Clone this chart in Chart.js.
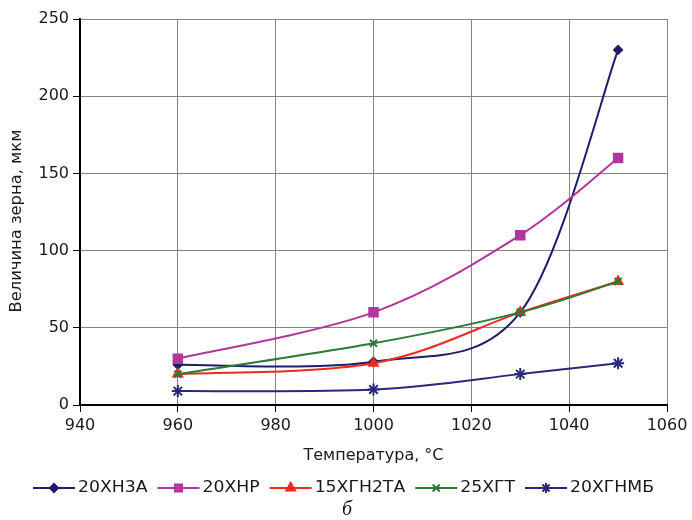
<!DOCTYPE html>
<html>
<head>
<meta charset="utf-8">
<script src="https://cdn.jsdelivr.net/npm/chart.js@4/dist/chart.umd.min.js"></script>
<style>
  html, body { margin: 0; padding: 0; background: #fff; }
  #wrap { width: 692px; height: 520px; position: relative; }
</style>
</head>
<body>
<div id="wrap"><canvas id="c" width="692" height="520"></canvas></div>
<script>
// Grain size of steels versus heating temperature
const temperatures = [960, 1000, 1030, 1050];
const s20XH3A   = [26, 28, 60, 230];
const s20XHP    = [30, 60, 110, 160];
const s15XGH2TA = [20, 27, 60, 80];
const s25XGT    = [20, 40, 60, 80];
const s20XGHMB  = [9, 10, 20, 27];

const seriesNames  = ['20ХН3А', '20ХНР', '15ХГН2ТА', '25ХГТ', '20ХГНМБ'];
const seriesValues = [s20XH3A, s20XHP, s15XGH2TA, s25XGT, s20XGHMB];
const seriesColors = ['#201c6a', '#b3369c', '#ee2a1e', '#2a7a36', '#2a2878'];
const seriesPoints = ['rectRot', 'rect', 'triangle', 'crossRot', 'star'];
const seriesRadius = [4, 6, 5, 5, 6];

const xTitle = 'Температура, °С';
const yTitle = 'Величина зерна, мкм';
const caption = 'б';

const FONT = '"DejaVu Sans", Verdana, sans-serif';

const datasets = seriesNames.map((name, i) => ({
  label: name,
  data: temperatures.map((t, k) => ({ x: t, y: seriesValues[i][k] })),
  borderColor: seriesColors[i],
  backgroundColor: seriesColors[i],
  pointStyle: seriesPoints[i],
  pointRadius: seriesRadius[i],
  pointBorderWidth: 2,
  borderWidth: 2,
  tension: 0.4,
  fill: false,
  order: seriesNames.length - i
}));

// Smoothed lines in the spreadsheet style: Catmull-Rom tangents (neighbour span / 6)
const smoothLines = {
  id: 'smoothLines',
  beforeDatasetDraw(chart, args) {
    const meta = args.meta;
    const line = meta.dataset;
    if (line && line.updateControlPoints) line.updateControlPoints(chart.chartArea, 'x');
    const pts = meta.data;
    for (let i = 0; i < pts.length; i++) {
      const p = pts[i];
      const prev = pts[i - 1] || p;
      const next = pts[i + 1] || p;
      const dx = (next.x - prev.x) / 6;
      const dy = (next.y - prev.y) / 6;
      p.cp1x = p.x - dx; p.cp1y = p.y - dy;
      p.cp2x = p.x + dx; p.cp2y = p.y + dy;
    }
  }
};

// Vertical axis title, legend (line-with-marker samples) and the caption
const annotations = {
  id: 'annotations',
  afterDraw(chart) {
    const ctx = chart.ctx;
    ctx.save();

    // y-axis title
    ctx.font = '16px ' + FONT;
    ctx.fillStyle = '#1a1a1a';
    ctx.textAlign = 'center';
    ctx.textBaseline = 'middle';
    ctx.save();
    ctx.translate(17, 221);
    ctx.rotate(-Math.PI / 2);
    const tw = ctx.measureText(yTitle).width;
    ctx.scale(183 / tw, 1);
    ctx.fillText(yTitle, 0, 0);
    ctx.restore();

    // legend
    ctx.font = '15px ' + FONT;
    const y = 488;
    const sampleW = 42;
    const gapText = 3;
    const gapItem = 10;
    const targetW = 621;
    const textW = seriesNames.map(n => ctx.measureText(n).width);
    const fixed = seriesNames.length * (sampleW + gapText) + gapItem * (seriesNames.length - 1);
    const sx = (targetW - fixed) / textW.reduce((a, b) => a + b, 0);
    let x = 33;
    seriesNames.forEach((n, i) => {
      ctx.strokeStyle = seriesColors[i];
      ctx.lineWidth = 2;
      ctx.beginPath();
      ctx.moveTo(x, y);
      ctx.lineTo(x + sampleW, y);
      ctx.stroke();
      ctx.fillStyle = seriesColors[i];
      Chart.helpers.drawPoint(ctx, {
        pointStyle: seriesPoints[i],
        radius: Math.min(seriesRadius[i], 5),
        rotation: 0,
        borderWidth: 2
      }, x + sampleW / 2, y);
      ctx.fillStyle = '#1a1a1a';
      ctx.textAlign = 'left';
      ctx.save();
      ctx.translate(x + sampleW + gapText, y);
      ctx.scale(sx, 1);
      ctx.fillText(n, 0, 0);
      ctx.restore();
      x += sampleW + gapText + textW[i] * sx + gapItem;
    });

    // caption
    ctx.font = 'italic 20px "Liberation Serif", "Times New Roman", serif';
    ctx.textAlign = 'center';
    ctx.fillStyle = '#111';
    ctx.fillText(caption, 347, 510);
    ctx.restore();
  }
};

new Chart(document.getElementById('c'), {
  type: 'line',
  data: { datasets },
  options: {
    responsive: false,
    animation: false,
    layout: { padding: { left: 0, right: 25, top: 19, bottom: 55 } },
    plugins: {
      legend: { display: false },
      tooltip: { enabled: false }
    },
    scales: {
      x: {
        type: 'linear',
        min: 940,
        max: 1060,
        ticks: {
          stepSize: 20,
          color: '#1a1a1a',
          font: { family: FONT, size: 16 },
          padding: 4,
          maxRotation: 0,
          callback: v => String(v)
        },
        grid: { color: '#8d817b', lineWidth: 1, tickColor: '#000', tickLength: 7 },
        border: { color: '#000', width: 2 },
        title: {
          display: true,
          text: xTitle,
          color: '#1a1a1a',
          font: { family: FONT, size: 16 },
          padding: { top: 1, bottom: 0 }
        },
        afterFit(s) { s.height = 60; }
      },
      y: {
        min: 0,
        max: 250,
        ticks: {
          stepSize: 50,
          color: '#1a1a1a',
          font: { family: FONT, size: 16 },
          padding: 4,
          callback: v => String(v)
        },
        grid: { color: '#8d817b', lineWidth: 1, tickColor: '#000', tickLength: 7 },
        border: { color: '#000', width: 2 },
        title: { display: false },
        afterFit(s) { s.width = 80; }
      }
    }
  },
  plugins: [smoothLines, annotations]
});
</script>
</body>
</html>
